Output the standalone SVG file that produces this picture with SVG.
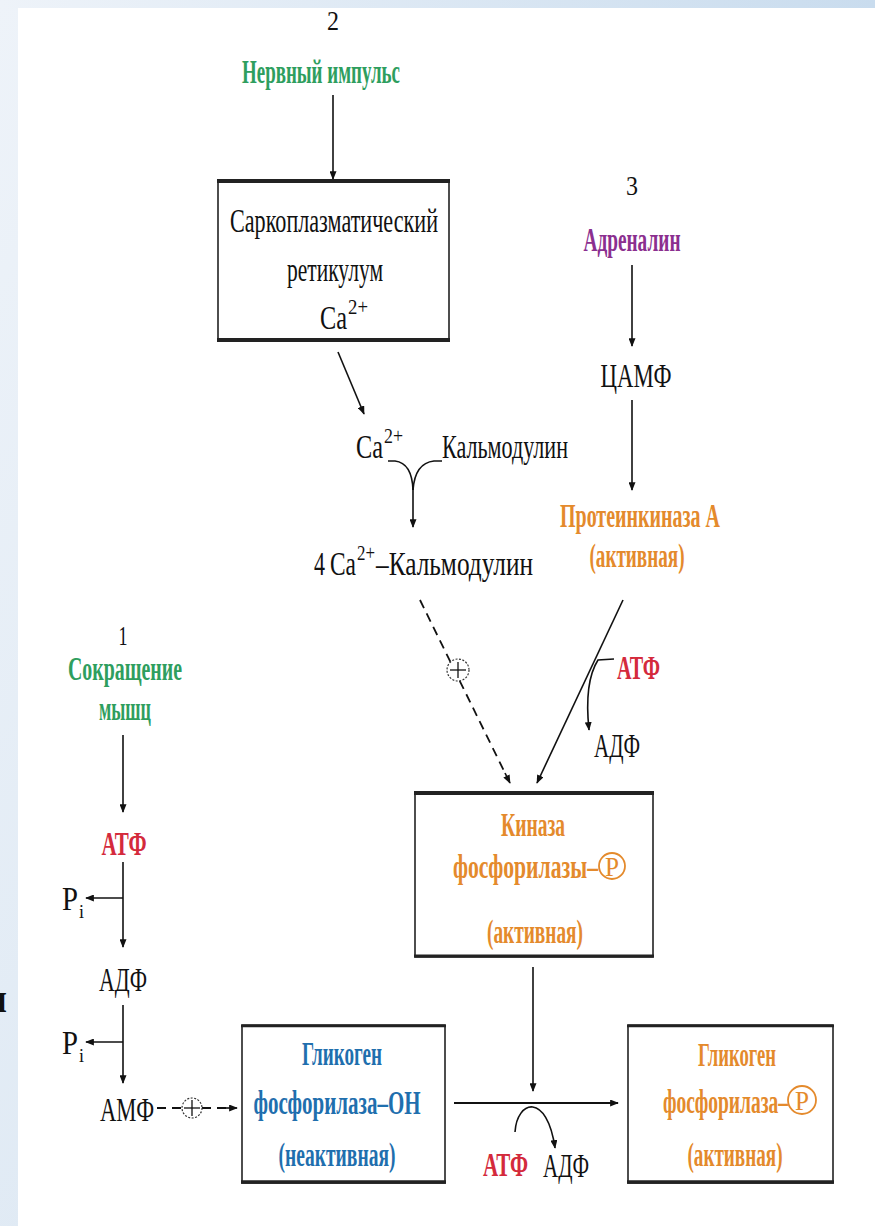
<svg xmlns="http://www.w3.org/2000/svg" width="875" height="1226" viewBox="0 0 875 1226">
<defs>
<linearGradient id="bg" x1="0" y1="0" x2="1" y2="1">
<stop offset="0" stop-color="#eef3f9"/>
<stop offset="1" stop-color="#d3e2f0"/>
</linearGradient>
<linearGradient id="topband" x1="0" y1="0" x2="1" y2="0">
<stop offset="0" stop-color="#eef3f9"/>
<stop offset="1" stop-color="#c9dcee"/>
</linearGradient>
<marker id="ah" viewBox="0 0 10 8" refX="9" refY="4" markerWidth="9" markerHeight="7" markerUnits="userSpaceOnUse" orient="auto">
<path d="M0,0 L10,4 L0,8 z" fill="#111"/>
</marker>
<style>
text{font-family:"Liberation Serif","Times New Roman",serif;font-size:33px;fill:#111;}
.b{font-weight:bold;}
.g{fill:#2e9e5e;font-weight:bold;}
.p{fill:#8b2f8f;font-weight:bold;}
.o{fill:#e48a2c;font-weight:bold;}
.r{fill:#d42a3c;font-weight:bold;}
.bl{fill:#1f6fae;font-weight:bold;}
.c{text-anchor:middle;}
.sup{font-size:22px;}
.ln{stroke:#111;stroke-width:1.6;fill:none;}
.arr{stroke:#111;stroke-width:1.6;fill:none;marker-end:url(#ah);}
.dash{stroke:#111;stroke-width:1.8;fill:none;stroke-dasharray:9 6;}
.box{fill:#fff;stroke:#222;stroke-width:1.6;}
.thick{stroke:#222;stroke-width:4;}
.plus{fill:#fff;stroke:#333;stroke-width:1.2;stroke-dasharray:2 1.5;}
.pc{fill:none;stroke:#e48a2c;stroke-width:1.8;}
</style>
</defs>
<rect x="0" y="0" width="875" height="1226" fill="url(#bg)"/>
<rect x="0" y="0" width="875" height="8" fill="url(#topband)"/>
<rect x="18" y="8" width="857" height="1218" fill="#ffffff"/>
<text x="-16" y="1012" class="b" style="font-size:40px">и</text>

<g id="connectors">
<line class="arr" x1="333" y1="95" x2="333" y2="179"/>
<line class="arr" x1="338" y1="352" x2="364" y2="414"/>
<path class="ln" d="M388,461 L395,461 Q412,463 413,490"/>
<path class="ln" d="M442,461 L434,461 Q415,463 413,490"/>
<line class="arr" x1="413" y1="488" x2="413" y2="527"/>
<line class="dash" x1="420" y1="600" x2="505" y2="773"/>
<line class="arr" x1="505" y1="773" x2="510" y2="783"/>
<line class="arr" x1="632" y1="265" x2="632" y2="346"/>
<line class="arr" x1="632" y1="400" x2="632" y2="490"/>
<line class="arr" x1="623" y1="600" x2="537" y2="783"/>
<path class="arr" d="M614,659 L598,660 Q584,682 589,730"/>
<line class="arr" x1="123" y1="735" x2="123" y2="812"/>
<line class="arr" x1="123" y1="862" x2="123" y2="947"/>
<line class="arr" x1="123" y1="898" x2="86" y2="898"/>
<line class="arr" x1="123" y1="1005" x2="123" y2="1083"/>
<line class="arr" x1="123" y1="1042" x2="86" y2="1042"/>
<line class="dash" x1="157" y1="1108" x2="228" y2="1108"/>
<line class="arr" x1="226" y1="1108" x2="237" y2="1108"/>
<line class="arr" x1="533" y1="967" x2="533" y2="1091"/>
<line class="arr" x1="454" y1="1103" x2="618" y2="1103" style="stroke-width:2.2"/>
<path class="arr" d="M515,1132 C517,1100 547,1092 555,1148"/>
<g id="plus1">
<circle class="plus" cx="458" cy="670" r="11"/>
<line class="ln" x1="458" y1="662" x2="458" y2="678" style="stroke-width:1.3"/>
<line class="ln" x1="450" y1="670" x2="466" y2="670" style="stroke-width:1.3"/>
</g>
<g id="plus2">
<circle class="plus" cx="192" cy="1108" r="10"/>
<line class="ln" x1="192" y1="1100" x2="192" y2="1116" style="stroke-width:1.3"/>
<line class="ln" x1="184" y1="1108" x2="200" y2="1108" style="stroke-width:1.3"/>
</g>
</g>

<g id="n-nerve">
<text x="333" y="30" class="c" style="font-size:28px" textLength="12" lengthAdjust="spacingAndGlyphs">2</text>
<text x="321" y="83" class="g c" textLength="158" lengthAdjust="spacingAndGlyphs">Нервный импульс</text>
</g>

<g id="n-sr">
<rect class="box" x="218" y="180" width="231" height="161"/>
<line class="thick" x1="217" y1="181" x2="450" y2="181"/>
<line class="thick" x1="217" y1="340" x2="450" y2="340"/>
<text x="334" y="232" class="c" textLength="208" lengthAdjust="spacingAndGlyphs">Саркоплазматический</text>
<text x="335" y="281" class="c" textLength="96" lengthAdjust="spacingAndGlyphs">ретикулум</text>
<text x="320" y="329" textLength="27" lengthAdjust="spacingAndGlyphs">Ca</text>
<text x="348" y="314" class="sup" textLength="20" lengthAdjust="spacingAndGlyphs">2+</text>
</g>

<g id="n-ca">
<text x="356" y="458" textLength="27" lengthAdjust="spacingAndGlyphs">Ca</text>
<text x="384" y="443" class="sup" textLength="19" lengthAdjust="spacingAndGlyphs">2+</text>
</g>

<g id="n-calmodulin">
<text x="442" y="458" textLength="126" lengthAdjust="spacingAndGlyphs">Кальмодулин</text>
</g>

<g id="n-ca4">
<text x="314" y="575" textLength="11" lengthAdjust="spacingAndGlyphs">4</text>
<text x="330" y="575" textLength="26" lengthAdjust="spacingAndGlyphs">Ca</text>
<text x="357" y="560" class="sup" textLength="18" lengthAdjust="spacingAndGlyphs">2+</text>
<text x="376" y="575" textLength="157" lengthAdjust="spacingAndGlyphs">–Кальмодулин</text>
</g>

<g id="n-adrenaline">
<text x="632" y="195" class="c" style="font-size:28px" textLength="12" lengthAdjust="spacingAndGlyphs">3</text>
<text x="632" y="251" class="p c" textLength="97" lengthAdjust="spacingAndGlyphs">Адреналин</text>
</g>

<g id="n-camp">
<text x="636" y="387" class="c" textLength="71" lengthAdjust="spacingAndGlyphs">ЦАМФ</text>
</g>

<g id="n-pka">
<text x="640" y="527" class="o c" textLength="160" lengthAdjust="spacingAndGlyphs">Протеинкиназа А</text>
<text x="637" y="567" class="o c" textLength="95" lengthAdjust="spacingAndGlyphs">(активная)</text>
</g>

<g id="n-atp2">
<text x="617" y="679" class="r" textLength="43" lengthAdjust="spacingAndGlyphs">АТФ</text>
<text x="594" y="757" textLength="46" lengthAdjust="spacingAndGlyphs">АДФ</text>
</g>

<g id="n-kinase">
<rect class="box" x="415" y="792" width="238" height="165"/>
<line class="thick" x1="414" y1="793" x2="654" y2="793"/>
<line class="thick" x1="414" y1="956" x2="654" y2="956" style="stroke-width:3"/>
<text x="533" y="836" class="o c" textLength="64" lengthAdjust="spacingAndGlyphs">Киназа</text>
<text x="453" y="878" class="o" textLength="145" lengthAdjust="spacingAndGlyphs">фосфорилазы–</text>
<circle class="pc" cx="612" cy="866" r="13"/>
<text x="612" y="876" class="o c" style="font-size:27px;font-weight:normal" textLength="14" lengthAdjust="spacingAndGlyphs">P</text>
<text x="535" y="943" class="o c" textLength="96" lengthAdjust="spacingAndGlyphs">(активная)</text>
</g>

<g id="n-muscle">
<text x="123" y="645" class="c" style="font-size:28px" textLength="9" lengthAdjust="spacingAndGlyphs">1</text>
<text x="125" y="680" class="g c" textLength="114" lengthAdjust="spacingAndGlyphs">Сокращение</text>
<text x="125" y="720" class="g c" textLength="52" lengthAdjust="spacingAndGlyphs">мышц</text>
</g>

<g id="n-atp1">
<text x="124" y="855" class="r c" textLength="45" lengthAdjust="spacingAndGlyphs">АТФ</text>
</g>

<g id="n-pi1">
<text x="62" y="910" textLength="16" lengthAdjust="spacingAndGlyphs">P</text>
<text x="79" y="918" style="font-size:18px">i</text>
</g>

<g id="n-adp1">
<text x="123" y="991" class="c" textLength="48" lengthAdjust="spacingAndGlyphs">АДФ</text>
</g>

<g id="n-pi2">
<text x="62" y="1054" textLength="16" lengthAdjust="spacingAndGlyphs">P</text>
<text x="79" y="1062" style="font-size:18px">i</text>
</g>

<g id="n-amp">
<text x="100" y="1121" textLength="54" lengthAdjust="spacingAndGlyphs">АМФ</text>
</g>

<g id="n-gp-inactive">
<rect class="box" x="242" y="1025" width="203" height="158"/>
<line class="thick" x1="241" y1="1026" x2="446" y2="1026" style="stroke-width:2.5"/>
<line class="thick" x1="241" y1="1182" x2="446" y2="1182" style="stroke-width:3.5"/>
<text x="342" y="1065" class="bl c" textLength="80" lengthAdjust="spacingAndGlyphs">Гликоген</text>
<text x="337" y="1114" class="bl c" textLength="167" lengthAdjust="spacingAndGlyphs">фосфорилаза–OH</text>
<text x="337" y="1166" class="bl c" textLength="117" lengthAdjust="spacingAndGlyphs">(неактивная)</text>
</g>

<g id="n-reaction">
<text x="483" y="1176" class="r" textLength="45" lengthAdjust="spacingAndGlyphs">АТФ</text>
<text x="543" y="1177" textLength="46" lengthAdjust="spacingAndGlyphs">АДФ</text>
</g>

<g id="n-gp-active">
<rect class="box" x="628" y="1025" width="205" height="158"/>
<line class="thick" x1="627" y1="1026" x2="834" y2="1026" style="stroke-width:2.5"/>
<line class="thick" x1="627" y1="1182" x2="834" y2="1182" style="stroke-width:3.5"/>
<text x="737" y="1066" class="o c" textLength="78" lengthAdjust="spacingAndGlyphs">Гликоген</text>
<text x="663" y="1113" class="o" textLength="125" lengthAdjust="spacingAndGlyphs">фосфорилаза–</text>
<circle class="pc" cx="802" cy="1100" r="14"/>
<text x="802" y="1110" class="o c" style="font-size:27px;font-weight:normal" textLength="14" lengthAdjust="spacingAndGlyphs">P</text>
<text x="735" y="1166" class="o c" textLength="95" lengthAdjust="spacingAndGlyphs">(активная)</text>
</g>
</svg>
